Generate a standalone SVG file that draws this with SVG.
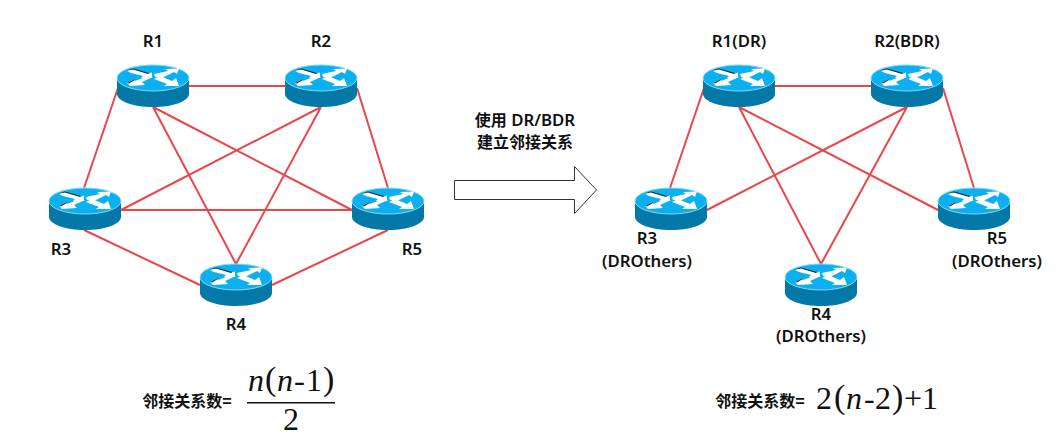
<svg xmlns="http://www.w3.org/2000/svg" width="1058" height="443" viewBox="0 0 1058 443">
<style>
.l{stroke:#e9464c;stroke-width:2;fill:none}
.t{font-family:"Noto Sans","Noto Sans CJK SC",sans-serif;font-size:16.800px;font-weight:600;fill:#111;text-anchor:middle}
.c{font-family:"Noto Sans CJK SC",sans-serif;font-size:16px;font-weight:700}
.m{font-family:"Liberation Serif",serif;font-size:32px;fill:#111}
.p{font-size:34px;font-weight:400}
.i{font-style:italic}
</style>
<defs>
<g id="router">
<path d="M-36 0V16C-36 23-20 29 0 29S36 23 36 16V0Z" fill="#0479a8"/>
<ellipse cx="0" cy="0" rx="36" ry="13" fill="#0bb0f0" stroke="#7fd8f8" stroke-width="1"/>
<path d="M-26-7L-20-9L-4-4.500L-1-5.500L-1 0L-12 0L-10-2L-22-5Z" fill="#fff"/>
<path d="M-26-7.500L-20-9.500L-4-5L-5-4L-20-8.500Z" fill="#222"/>
<path d="M1-4L15-7L12-9L26-9.500L24-4L21-6L9 0L2-1Z" fill="#fff"/>
<path d="M-26 5L-18 1V3L-5-2L0-1L-11 4L-8 7L-23 8Z" fill="#fff"/>
<path d="M-26 5L-18 1V2L-24 5.500Z" fill="#333"/>
<path d="M1 1L7-2L19 3L23 0L26 8L11 8L14 6Z" fill="#fff"/>
</g>
</defs>
<g id="connectors">
<path class="l" d="M189 86H285M118 88L84 188M153 107L236 264M153 107L352 210M321 107L121 210M321 107L236 264M357 88L388 188M121 210H352M84 230L200 285M388 230L272 285"/>
<path class="l" d="M775 86H871M704 88L670 188M739 107L821 264M739 107L938 210M907 107L707 210M907 107L821 264M943 88L974 188"/>
</g>
<g id="r1"><use href="#router" x="153" y="78"/><text class="t" x="153" y="47">R1</text></g>
<g id="r2"><use href="#router" x="321" y="78"/><text class="t" x="321" y="47">R2</text></g>
<g id="r3"><use href="#router" x="85" y="201"/><text class="t" x="61" y="255">R3</text></g>
<g id="r5"><use href="#router" x="388" y="201"/><text class="t" x="412" y="255">R5</text></g>
<g id="r4"><use href="#router" x="236" y="277"/><text class="t" x="236" y="330">R4</text></g>
<g id="r1b"><use href="#router" x="739" y="78"/><text class="t" x="739" y="47">R1(DR)</text></g>
<g id="r2b"><use href="#router" x="907" y="78"/><text class="t" x="907" y="47">R2(BDR)</text></g>
<g id="r3b"><use href="#router" x="671" y="201"/><text class="t" x="647" y="244">R3</text><text class="t" x="647" y="267">(DROthers)</text></g>
<g id="r5b"><use href="#router" x="974" y="201"/><text class="t" x="997" y="244">R5</text><text class="t" x="997" y="267">(DROthers)</text></g>
<g id="r4b"><use href="#router" x="821" y="277"/><text class="t" x="821" y="320">R4</text><text class="t" x="821" y="342">(DROthers)</text></g>
<g id="arrow">
<path d="M454.500 180.500H574.500V166.500L596.500 190L574.500 213.500V199.500H454.500Z" fill="#fff" stroke="#333" stroke-width="1"/>
<text class="t" x="525" y="126"><tspan class="c">使用</tspan> DR/BDR</text>
<text class="t c" x="525" y="148">建立邻接关系</text>
</g>
<g id="formula-left">
<text class="t c" x="187" y="407">邻接关系数=</text>
<g class="m">
<text class="i" x="248" y="391">n</text>
<text class="p" x="265" y="390">(</text>
<text class="i" x="277" y="391">n</text>
<text x="294" y="391" textLength="11" lengthAdjust="spacingAndGlyphs">-</text>
<text x="306" y="391">1</text>
<text class="p" x="323" y="390">)</text>
</g>
<rect x="247" y="402" width="88" height="1.500" fill="#111"/>
<text class="m" x="291" y="430" text-anchor="middle">2</text>
</g>
<g id="formula-right">
<text class="t c" x="760" y="407">邻接关系数=</text>
<g class="m">
<text x="816" y="409">2</text>
<text class="p" x="834" y="408">(</text>
<text class="i" x="846" y="409">n</text>
<text x="864" y="409">-</text>
<text x="875" y="409">2</text>
<text class="p" x="892" y="408">)</text>
<text x="904" y="409">+</text>
<text x="922" y="409">1</text>
</g>
</g>
</svg>
